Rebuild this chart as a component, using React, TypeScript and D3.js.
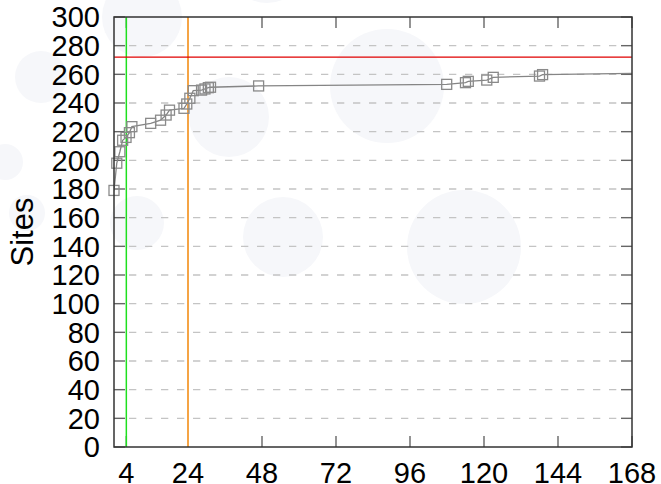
import React from "react";
import * as d3 from "d3";

// hours since start vs number of sites seen
const hours = [0, 0.9, 1.9, 2.8, 3.9, 5, 5.8, 11.9, 15.1, 16.9, 18, 22.7, 23.6, 24.6, 25.7, 28.4, 29.5, 30.6, 31.3, 46.9, 107.9, 114, 114.9, 120.9, 123, 138, 139, 171];
const sites = [179, 198, 206, 214, 216, 219.3, 223.5, 225.8, 228, 231.6, 235, 236.3, 239.3, 243.3, 248.6, 249, 249.8, 250.7, 251, 251.9, 253, 254.2, 255.1, 256, 257.9, 258.8, 259.8, 260.8];

const xTicks = [4, 24, 48, 72, 96, 120, 144, 168];
const yTicks = d3.range(0, 301, 20);

const greenHour = 4;
const orangeHour = 24;
const redSites = 272;

// faint background discs: [cx, cy, r]
const discs = [
  [142, 17, 40], [267, -37, 40], [41, 77, 26], [5, 162, 18], [27, 213, 18],
  [137, 223, 27], [229, 117, 40], [283, 237, 40], [387, 86, 57], [464, 247, 57],
];

const W = 661;
const H = 484;
const margin = { top: 17, right: 29, bottom: 37, left: 114 };

export default function App() {
  const x = d3.scaleLinear().domain([0, 168]).range([margin.left, W - margin.right]);
  const y = d3.scaleLinear().domain([0, 300]).range([H - margin.bottom, margin.top]);
  const pts = hours.map((h, i) => [h, sites[i]] as [number, number]);
  const line = d3.line<[number, number]>().x((d) => x(d[0])).y((d) => y(d[1]));
  const x0 = x(0), x1 = x(168), y0 = y(0), y1 = y(300);
  const tick = 11;
  const font = "'Liberation Sans', Arial, Helvetica, sans-serif";
  const sq = 10;

  return (
    <svg width={W} height={H} style={{ position: "absolute", left: 0, top: 0, background: "#fff" }}>
      <defs>
        <clipPath id="plot">
          <rect x={x0} y={y1} width={x1 - x0} height={y0 - y1} />
        </clipPath>
      </defs>
      {discs.map(([cx, cy, r], i) => (
        <circle key={i} cx={cx} cy={cy} r={r} fill="#f6f7fa" />
      ))}

      {/* grid */}
      {yTicks.slice(1, -1).map((t) => (
        <line key={t} x1={x0 + 15} x2={x1 - tick} y1={y(t)} y2={y(t)} stroke="#c4c4c4" strokeWidth={1.3} strokeDasharray="7.3,8.7" />
      ))}

      {/* ticks */}
      {yTicks.map((t) => (
        <g key={t} stroke="#666" strokeWidth={1.4}>
          <line x1={x0} x2={x0 + tick} y1={y(t)} y2={y(t)} />
          <line x1={x1 - tick} x2={x1} y1={y(t)} y2={y(t)} />
        </g>
      ))}
      {xTicks.map((t) => (
        <g key={t} stroke="#666" strokeWidth={1.4}>
          <line x1={x(t)} x2={x(t)} y1={y0} y2={y0 - tick} />
          <line x1={x(t)} x2={x(t)} y1={y1} y2={y1 + tick} />
        </g>
      ))}

      {/* reference lines */}
      <line x1={x(greenHour)} x2={x(greenHour)} y1={y0} y2={y1} stroke="#1ee01e" strokeWidth={1.5} />
      <line x1={x(orangeHour)} x2={x(orangeHour)} y1={y0} y2={y1} stroke="#f5a445" strokeWidth={2} />
      <line x1={x0} x2={x1} y1={y(redSites)} y2={y(redSites)} stroke="#e00000" strokeWidth={1.3} />

      {/* series */}
      <path d={line(pts) || ""} fill="none" stroke="#858585" strokeWidth={1.3} clipPath="url(#plot)" />
      {pts.filter((d) => d[0] <= 168).map((d, i) => (
        <rect key={i} x={x(d[0]) - sq / 2} y={y(d[1]) - sq / 2} width={sq} height={sq} fill="none" stroke="#8a8a8a" strokeWidth={1.3} />
      ))}

      {/* frame */}
      <rect x={x0} y={y1} width={x1 - x0} height={y0 - y1} fill="none" stroke="#333" strokeWidth={1.5} />

      {/* labels */}
      <g fontFamily={font} fontSize={29} fill="#000">
        {yTicks.map((t) => (
          <text key={t} x={x0 - 14} y={y(t)} dy="0.36em" textAnchor="end">{t}</text>
        ))}
        {xTicks.map((t) => (
          <text key={t} x={x(t)} y={y0 + 36} textAnchor="middle">{t}</text>
        ))}
        <text transform={`translate(33, 232) rotate(-90)`} textAnchor="middle" fontSize={31}>Sites</text>
      </g>
    </svg>
  );
}
